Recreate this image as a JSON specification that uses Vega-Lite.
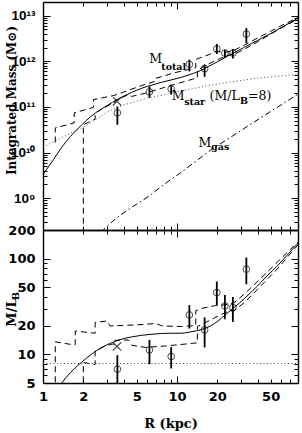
{
  "$schema": "https://vega.github.io/schema/vega-lite/v6.json",
  "background": "white",
  "padding": {"left": 4, "top": 1, "right": 1, "bottom": 2},
  "spacing": 0,
  "bounds": "flush",
  "config": {
    "view": {"stroke": null},
    "axis": {"domainColor": "black", "domainWidth": 1.4, "tickColor": "black", "tickWidth": 1, "grid": false, "labelColor": "black", "titleColor": "black", "labelOverlap": false, "labelFlush": false}
  },
  "vconcat": [
    {
      "width": 255,
      "height": 228,
      "layer": [
        {
          "data": {"values": [
            {"R": 1, "M": 3.31e9}, {"R": 1.2, "M": 7.08e9}, {"R": 1.385, "M": 1.32e10}, {"R": 1.6, "M": 2.24e10},
            {"R": 1.95, "M": 4.07e10}, {"R": 2.3, "M": 6.31e10}, {"R": 2.75, "M": 9.12e10}, {"R": 3.3, "M": 1.26e11},
            {"R": 3.9, "M": 1.66e11}, {"R": 4.6, "M": 2.09e11}, {"R": 5.46, "M": 2.57e11}, {"R": 6.5, "M": 3.02e11},
            {"R": 7.67, "M": 3.47e11}, {"R": 9, "M": 3.89e11}, {"R": 10.8, "M": 4.47e11}, {"R": 12.5, "M": 5.13e11},
            {"R": 14, "M": 5.75e11}, {"R": 16, "M": 6.92e11}, {"R": 18, "M": 8.32e11}, {"R": 20, "M": 9.77e11},
            {"R": 23, "M": 1.23e12}, {"R": 26.7, "M": 1.55e12}, {"R": 32, "M": 2.04e12}, {"R": 40, "M": 2.88e12},
            {"R": 50, "M": 4.07e12}, {"R": 60, "M": 5.5e12}, {"R": 70, "M": 7.08e12}, {"R": 80, "M": 8.91e12}
          ]},
          "mark": {"type": "line", "color": "black", "strokeWidth": 1, "interpolate": "monotone", "clip": true},
          "encoding": {
            "x": {"field": "R", "type": "quantitative", "scale": {"type": "log", "domain": [1, 80], "nice": false},
                  "axis": {"orient": "bottom", "values": [1, 10], "tickSize": -7, "labels": false, "domain": true, "title": null}},
            "y": {"field": "M", "type": "quantitative", "scale": {"type": "log", "domain": [2e8, 2e13], "nice": false},
                  "axis": {"orient": "left", "values": [1e9, 1e10, 1e11, 1e12, 1e13], "tickSize": -7, "labelPadding": 15,
                           "labelFont": "Liberation Sans", "labelFontSize": 13.5, "labelFontWeight": "bold",
                           "labelExpr": "datum.value == 1e9 ? '10⁹' : datum.value == 1e10 ? '10¹⁰' : datum.value == 1e11 ? '10¹¹' : datum.value == 1e12 ? '10¹²' : '10¹³'",
                           "domain": true, "title": "Integrated Mass (M⊙)", "titleFont": "DejaVu Serif", "titleFontSize": 12,
                           "titleFontWeight": "bold", "titleX": -28, "titleY": 98, "titleBaseline": "alphabetic", "titleAngle": 270, "titleAlign": "center"}}
          }
        },
        {
          "data": {"values": [
            {"R": 1, "M": 1.32e10}, {"R": 1.25, "M": 1.82e10}, {"R": 1.5, "M": 2.4e10}, {"R": 2, "M": 3.63e10},
            {"R": 2.5, "M": 5.37e10}, {"R": 3, "M": 7.59e10}, {"R": 4, "M": 1.1e11}, {"R": 5, "M": 1.32e11},
            {"R": 6, "M": 1.55e11}, {"R": 7, "M": 1.7e11}, {"R": 9, "M": 2.0e11}, {"R": 10, "M": 2.14e11},
            {"R": 13, "M": 2.51e11}, {"R": 16, "M": 2.82e11}, {"R": 20, "M": 3.16e11}, {"R": 30, "M": 3.8e11},
            {"R": 40, "M": 4.27e11}, {"R": 50, "M": 4.57e11}, {"R": 60, "M": 4.79e11}, {"R": 80, "M": 5.13e11}
          ]},
          "mark": {"type": "line", "color": "#444444", "strokeWidth": 1, "strokeDash": [1, 2.5], "interpolate": "monotone", "clip": true},
          "encoding": {
            "x": {"field": "R", "type": "quantitative", "scale": {"type": "log", "domain": [1, 80], "nice": false},
                  "axis": {"orient": "bottom", "values": [2, 3, 4, 5, 6, 7, 8, 9, 20, 30, 40, 50, 60, 70], "tickSize": -4, "labels": false, "domain": false, "title": null}},
            "y": {"field": "M", "type": "quantitative", "scale": {"type": "log", "domain": [2e8, 2e13], "nice": false},
                  "axis": {"orient": "left", "values": [3e8, 4e8, 5e8, 6e8, 7e8, 8e8, 9e8, 2e9, 3e9, 4e9, 5e9, 6e9, 7e9, 8e9, 9e9, 2e10, 3e10, 4e10, 5e10, 6e10, 7e10, 8e10, 9e10, 2e11, 3e11, 4e11, 5e11, 6e11, 7e11, 8e11, 9e11, 2e12, 3e12, 4e12, 5e12, 6e12, 7e12, 8e12, 9e12],
                           "tickSize": -4, "labels": false, "domain": false, "title": null}}
          }
        },
        {
          "data": {"values": [
            {"R": 2.7, "M": 1.78e8}, {"R": 3.5, "M": 3.55e8}, {"R": 4.5, "M": 6.03e8}, {"R": 6.2, "M": 1.12e9},
            {"R": 8, "M": 2.0e9}, {"R": 10, "M": 3.16e9}, {"R": 14, "M": 6.61e9}, {"R": 18, "M": 1.15e10},
            {"R": 25, "M": 2.14e10}, {"R": 35, "M": 4.07e10}, {"R": 50, "M": 7.94e10}, {"R": 65, "M": 1.29e11}, {"R": 80, "M": 1.91e11}
          ]},
          "mark": {"type": "line", "color": "black", "strokeWidth": 1, "strokeDash": [6, 3, 1.5, 3], "interpolate": "monotone", "clip": true},
          "encoding": {
            "x": {"field": "R", "type": "quantitative", "scale": {"type": "log", "domain": [1, 80], "nice": false},
                  "axis": {"orient": "top", "values": [1, 10], "tickSize": -7, "labels": false, "domain": true, "title": null}},
            "y": {"field": "M", "type": "quantitative", "scale": {"type": "log", "domain": [2e8, 2e13], "nice": false},
                  "axis": {"orient": "right", "values": [1e9, 1e10, 1e11, 1e12, 1e13], "tickSize": -7, "labels": false, "domain": true, "title": null}}
          }
        },
        {
          "data": {"values": [
            {"R": 1.235, "M": 1.66e10}, {"R": 1.235, "M": 3.47e10}, {"R": 1.71, "M": 4.47e10}, {"R": 1.71, "M": 7.41e10},
            {"R": 2.38, "M": 9.77e10}, {"R": 2.38, "M": 1.45e11}, {"R": 3.38, "M": 1.78e11}, {"R": 4.3, "M": 2.29e11},
            {"R": 5.46, "M": 2.95e11}, {"R": 6.82, "M": 3.63e11}, {"R": 6.82, "M": 4.17e11}, {"R": 9.6, "M": 5.62e11},
            {"R": 13.8, "M": 7.24e11}, {"R": 13.8, "M": 1.1e12}, {"R": 17.4, "M": 1.41e12}, {"R": 19.5, "M": 1.66e12},
            {"R": 23, "M": 1.58e12}, {"R": 26.6, "M": 1.74e12}, {"R": 32, "M": 2.29e12}, {"R": 40, "M": 3.24e12},
            {"R": 50, "M": 4.57e12}, {"R": 60, "M": 6.03e12}, {"R": 80, "M": 9.12e12}
          ]},
          "mark": {"type": "line", "color": "black", "strokeWidth": 1, "strokeDash": [6, 4], "clip": true},
          "encoding": {
            "x": {"field": "R", "type": "quantitative", "scale": {"type": "log", "domain": [1, 80], "nice": false},
                  "axis": {"orient": "top", "values": [2, 3, 4, 5, 6, 7, 8, 9, 20, 30, 40, 50, 60, 70], "tickSize": -4, "labels": false, "domain": false, "title": null}},
            "y": {"field": "M", "type": "quantitative", "scale": {"type": "log", "domain": [2e8, 2e13], "nice": false},
                  "axis": {"orient": "right", "values": [3e8, 4e8, 5e8, 6e8, 7e8, 8e8, 9e8, 2e9, 3e9, 4e9, 5e9, 6e9, 7e9, 8e9, 9e9, 2e10, 3e10, 4e10, 5e10, 6e10, 7e10, 8e10, 9e10, 2e11, 3e11, 4e11, 5e11, 6e11, 7e11, 8e11, 9e11, 2e12, 3e12, 4e12, 5e12, 6e12, 7e12, 8e12, 9e12],
                           "tickSize": -4, "labels": false, "domain": false, "title": null}}
          }
        },
        {
          "data": {"values": [
            {"R": 2, "M": 1e8}, {"R": 2, "M": 4.07e10}, {"R": 2.45, "M": 5.37e10}, {"R": 2.45, "M": 7.41e10},
            {"R": 2.9, "M": 9.77e10}, {"R": 3.3, "M": 1.2e11}, {"R": 3.45, "M": 1.26e11}, {"R": 3.45, "M": 1.38e11},
            {"R": 4.35, "M": 1.86e11}, {"R": 4.6, "M": 1.7e11}, {"R": 5.8, "M": 2.0e11}, {"R": 8.1, "M": 2.69e11},
            {"R": 13.1, "M": 4.07e11}, {"R": 14.2, "M": 4.37e11}, {"R": 14.2, "M": 6.46e11}, {"R": 19, "M": 1.02e12},
            {"R": 21.2, "M": 1.17e12}, {"R": 24.5, "M": 1.38e12}, {"R": 26.6, "M": 1.41e12}, {"R": 32, "M": 1.86e12},
            {"R": 40, "M": 2.69e12}, {"R": 56, "M": 4.79e12}, {"R": 80, "M": 8.51e12}
          ]},
          "mark": {"type": "line", "color": "black", "strokeWidth": 1, "strokeDash": [6, 4], "clip": true},
          "encoding": {
            "x": {"field": "R", "type": "quantitative", "scale": {"type": "log", "domain": [1, 80], "nice": false}, "axis": null},
            "y": {"field": "M", "type": "quantitative", "scale": {"type": "log", "domain": [2e8, 2e13], "nice": false}, "axis": null}
          }
        },
        {
          "data": {"values": [
            {"R": 3.59, "M": 7.41e10, "lo": 4.07e10, "hi": 1.02e11},
            {"R": 6.23, "M": 2.14e11, "lo": 1.58e11, "hi": 2.83e11},
            {"R": 9.05, "M": 2.48e11, "lo": 1.86e11, "hi": 3.09e11},
            {"R": 12.37, "M": 8.59e11, "lo": 6.03e11, "hi": 1.09e12},
            {"R": 16.08, "M": 6.92e11, "lo": 4.57e11, "hi": 8.51e11},
            {"R": 19.82, "M": 1.87e12, "lo": 1.45e12, "hi": 2.4e12},
            {"R": 22.78, "M": 1.52e12, "lo": 1.19e12, "hi": 1.8e12},
            {"R": 26.12, "M": 1.52e12, "lo": 1.15e12, "hi": 1.86e12},
            {"R": 32.93, "M": 3.97e12, "lo": 2.51e12, "hi": 5.37e12}
          ]},
          "layer": [
            {
              "mark": {"type": "rule", "color": "black", "strokeWidth": 1.8, "clip": true},
              "encoding": {
                "x": {"field": "R", "type": "quantitative", "scale": {"type": "log", "domain": [1, 80], "nice": false}, "axis": null},
                "y": {"field": "lo", "type": "quantitative", "scale": {"type": "log", "domain": [2e8, 2e13], "nice": false}, "axis": null},
                "y2": {"field": "hi"}
              }
            },
            {
              "mark": {"type": "point", "shape": "circle", "filled": false, "color": "black", "size": 45, "strokeWidth": 1, "clip": true},
              "encoding": {
                "x": {"field": "R", "type": "quantitative", "scale": {"type": "log", "domain": [1, 80], "nice": false}, "axis": null},
                "y": {"field": "M", "type": "quantitative", "scale": {"type": "log", "domain": [2e8, 2e13], "nice": false}, "axis": null}
              }
            }
          ]
        },
        {
          "data": {"values": [{"R": 3.57, "M": 1.33e11}]},
          "mark": {"type": "point", "shape": "M-1,-1L1,1M-1,1L1,-1", "filled": false, "color": "black", "size": 70, "strokeWidth": 1.2},
          "encoding": {
            "x": {"field": "R", "type": "quantitative", "scale": {"type": "log", "domain": [1, 80], "nice": false}, "axis": null},
            "y": {"field": "M", "type": "quantitative", "scale": {"type": "log", "domain": [2e8, 2e13], "nice": false}, "axis": null}
          }
        },
        {
          "data": {"values": [
            {"R": 6.21, "M": 9.36e11, "t": "M"},
            {"R": 9.13, "M": 1.45e11, "t": "M"},
            {"R": 17.5, "M": 1.45e11, "t": "(M/L"},
            {"R": 33.9, "M": 1.45e11, "t": "=8)"},
            {"R": 14.5, "M": 1.29e10, "t": "M"}
          ]},
          "mark": {"type": "text", "align": "left", "baseline": "alphabetic", "font": "DejaVu Serif", "fontSize": 12.5, "color": "black"},
          "encoding": {
            "x": {"field": "R", "type": "quantitative", "scale": {"type": "log", "domain": [1, 80], "nice": false}, "axis": null},
            "y": {"field": "M", "type": "quantitative", "scale": {"type": "log", "domain": [2e8, 2e13], "nice": false}, "axis": null},
            "text": {"field": "t"}
          }
        },
        {
          "data": {"values": [
            {"R": 7.63, "M": 6.58e11, "t": "total"},
            {"R": 11.31, "M": 1.1e11, "t": "star"},
            {"R": 29.55, "M": 1.18e11, "t": "B"},
            {"R": 17.97, "M": 1.14e10, "t": "gas"}
          ]},
          "mark": {"type": "text", "align": "left", "baseline": "alphabetic", "font": "DejaVu Serif", "fontSize": 9.5, "fontWeight": "bold", "color": "black"},
          "encoding": {
            "x": {"field": "R", "type": "quantitative", "scale": {"type": "log", "domain": [1, 80], "nice": false}, "axis": null},
            "y": {"field": "M", "type": "quantitative", "scale": {"type": "log", "domain": [2e8, 2e13], "nice": false}, "axis": null},
            "text": {"field": "t"}
          }
        }
      ],
      "resolve": {"axis": {"x": "independent", "y": "independent"}}
    },
    {
      "width": 255,
      "height": 153,
      "layer": [
        {
          "data": {"values": [
            {"R": 1.3, "ML": 4.3}, {"R": 1.385, "ML": 5.0}, {"R": 1.6, "ML": 6.4}, {"R": 1.95, "ML": 8.3},
            {"R": 2.3, "ML": 10.0}, {"R": 2.75, "ML": 11.8}, {"R": 3.3, "ML": 13.3}, {"R": 3.87, "ML": 14.4},
            {"R": 4.6, "ML": 15.2}, {"R": 5.46, "ML": 15.8}, {"R": 6.5, "ML": 16.2}, {"R": 7.67, "ML": 16.5},
            {"R": 9, "ML": 16.6}, {"R": 10.8, "ML": 16.6}, {"R": 12.5, "ML": 17.1}, {"R": 14, "ML": 17.6},
            {"R": 16.1, "ML": 18.6}, {"R": 18, "ML": 20}, {"R": 20, "ML": 22}, {"R": 23, "ML": 26},
            {"R": 26.7, "ML": 30.8}, {"R": 32, "ML": 38.5}, {"R": 39.9, "ML": 51.9}, {"R": 47, "ML": 66},
            {"R": 56, "ML": 84}, {"R": 66, "ML": 108}, {"R": 80, "ML": 146}
          ]},
          "mark": {"type": "line", "color": "black", "strokeWidth": 1, "interpolate": "monotone", "clip": true},
          "encoding": {
            "x": {"field": "R", "type": "quantitative", "scale": {"type": "log", "domain": [1, 80], "nice": false},
                  "axis": {"orient": "bottom", "values": [1, 2, 5, 10, 20, 50], "ticks": false, "labelPadding": 7, "format": "d",
                           "labelFont": "DejaVu Sans", "labelFontSize": 13, "labelFontWeight": "bold", "domain": true,
                           "title": "R (kpc)", "titleFont": "DejaVu Serif", "titleFontSize": 13, "titleFontWeight": "bold",
                           "titleY": 44, "titleBaseline": "alphabetic"}},
            "y": {"field": "ML", "type": "quantitative", "scale": {"type": "log", "domain": [5, 200], "nice": false},
                  "axis": {"orient": "left", "values": [5, 10, 20, 50, 100, 200], "tickSize": -7, "labelPadding": 15, "format": "d",
                           "labelFont": "DejaVu Sans", "labelFontSize": 13, "labelFontWeight": "bold", "domain": true,
                           "title": "M/L", "titleFont": "DejaVu Serif", "titleFontSize": 13, "titleFontWeight": "bold",
                           "titleX": -28, "titleY": 82, "titleBaseline": "alphabetic", "titleAngle": 270, "titleAlign": "center"}}
          }
        },
        {
          "data": {"values": [
            {"R": 1.235, "ML": 4}, {"R": 1.235, "ML": 13.5}, {"R": 1.6, "ML": 12.7}, {"R": 1.74, "ML": 12.6},
            {"R": 1.74, "ML": 17.5}, {"R": 2.45, "ML": 16.6}, {"R": 2.45, "ML": 21.5}, {"R": 3.0, "ML": 22.3},
            {"R": 3.17, "ML": 19.8}, {"R": 5.0, "ML": 20.3}, {"R": 7.0, "ML": 21.0}, {"R": 7.7, "ML": 19.8},
            {"R": 10.8, "ML": 19.5}, {"R": 13.8, "ML": 20}, {"R": 13.8, "ML": 28.5}, {"R": 15, "ML": 30},
            {"R": 19, "ML": 32.2}, {"R": 23, "ML": 33}, {"R": 26.6, "ML": 34.5}, {"R": 32, "ML": 43},
            {"R": 40, "ML": 58}, {"R": 56, "ML": 92}, {"R": 80, "ML": 150}
          ]},
          "mark": {"type": "line", "color": "black", "strokeWidth": 1, "strokeDash": [6, 4], "clip": true},
          "encoding": {
            "x": {"field": "R", "type": "quantitative", "scale": {"type": "log", "domain": [1, 80], "nice": false},
                  "axis": {"orient": "bottom", "values": [1, 10], "tickSize": -7, "labels": false, "domain": false, "title": null}},
            "y": {"field": "ML", "type": "quantitative", "scale": {"type": "log", "domain": [5, 200], "nice": false},
                  "axis": {"orient": "left", "values": [6, 7, 8, 9, 30, 40, 60, 70, 80, 90], "tickSize": -4, "labels": false, "domain": false, "title": null}}
          }
        },
        {
          "data": {"values": [
            {"R": 2, "ML": 4}, {"R": 2, "ML": 8.2}, {"R": 2.45, "ML": 7.8}, {"R": 2.45, "ML": 10.8},
            {"R": 2.9, "ML": 12.2}, {"R": 3.3, "ML": 12.8}, {"R": 3.45, "ML": 12.6}, {"R": 3.45, "ML": 14.0},
            {"R": 4.35, "ML": 14.1}, {"R": 4.6, "ML": 12.4}, {"R": 5.8, "ML": 11.8}, {"R": 8.1, "ML": 12.2},
            {"R": 13.1, "ML": 13.0}, {"R": 14.2, "ML": 13.2}, {"R": 14.2, "ML": 19.5}, {"R": 19, "ML": 24},
            {"R": 21.2, "ML": 26}, {"R": 24.5, "ML": 28.4}, {"R": 26.6, "ML": 28.5}, {"R": 32, "ML": 35},
            {"R": 40, "ML": 48}, {"R": 56, "ML": 78}, {"R": 80, "ML": 140}
          ]},
          "mark": {"type": "line", "color": "black", "strokeWidth": 1, "strokeDash": [6, 4], "clip": true},
          "encoding": {
            "x": {"field": "R", "type": "quantitative", "scale": {"type": "log", "domain": [1, 80], "nice": false},
                  "axis": {"orient": "bottom", "values": [2, 3, 4, 5, 6, 7, 8, 9, 20, 30, 40, 50, 60, 70], "tickSize": -4, "labels": false, "domain": false, "title": null}},
            "y": {"field": "ML", "type": "quantitative", "scale": {"type": "log", "domain": [5, 200], "nice": false},
                  "axis": {"orient": "right", "values": [5, 10, 20, 50, 100, 200], "tickSize": -7, "labels": false, "domain": true, "title": null}}
          }
        },
        {
          "data": {"values": [{"R": 1, "ML": 8}, {"R": 80, "ML": 8}]},
          "mark": {"type": "line", "color": "#444444", "strokeWidth": 1, "strokeDash": [1, 2.5], "clip": true},
          "encoding": {
            "x": {"field": "R", "type": "quantitative", "scale": {"type": "log", "domain": [1, 80], "nice": false},
                  "axis": {"orient": "top", "values": [1, 10], "tickSize": -7, "labels": false, "domain": true, "title": null}},
            "y": {"field": "ML", "type": "quantitative", "scale": {"type": "log", "domain": [5, 200], "nice": false},
                  "axis": {"orient": "right", "values": [6, 7, 8, 9, 30, 40, 60, 70, 80, 90], "tickSize": -4, "labels": false, "domain": false, "title": null}}
          }
        },
        {
          "data": {"values": [
            {"R": 3.59, "ML": 6.98, "lo": 4.5, "hi": 9.78},
            {"R": 6.23, "ML": 11.11, "lo": 7.87, "hi": 14.14},
            {"R": 9.05, "ML": 9.48, "lo": 7.1, "hi": 11.86},
            {"R": 12.37, "ML": 25.8, "lo": 18.6, "hi": 32.7},
            {"R": 16.08, "ML": 18.0, "lo": 11.8, "hi": 24.3},
            {"R": 19.82, "ML": 44.3, "lo": 32.6, "hi": 57.7},
            {"R": 22.78, "ML": 32.1, "lo": 23.3, "hi": 41.8},
            {"R": 26.12, "ML": 30.8, "lo": 21.8, "hi": 39.8},
            {"R": 32.93, "ML": 77.6, "lo": 54.1, "hi": 102.9}
          ]},
          "layer": [
            {
              "mark": {"type": "rule", "color": "black", "strokeWidth": 1.8, "clip": true},
              "encoding": {
                "x": {"field": "R", "type": "quantitative", "scale": {"type": "log", "domain": [1, 80], "nice": false}, "axis": null},
                "y": {"field": "lo", "type": "quantitative", "scale": {"type": "log", "domain": [5, 200], "nice": false}, "axis": null},
                "y2": {"field": "hi"}
              }
            },
            {
              "mark": {"type": "point", "shape": "circle", "filled": false, "color": "black", "size": 45, "strokeWidth": 1, "clip": true},
              "encoding": {
                "x": {"field": "R", "type": "quantitative", "scale": {"type": "log", "domain": [1, 80], "nice": false}, "axis": null},
                "y": {"field": "ML", "type": "quantitative", "scale": {"type": "log", "domain": [5, 200], "nice": false}, "axis": null}
              }
            }
          ]
        },
        {
          "data": {"values": [{"R": 3.57, "ML": 12.06}]},
          "mark": {"type": "point", "shape": "M-1,-1L1,1M-1,1L1,-1", "filled": false, "color": "black", "size": 70, "strokeWidth": 1.2},
          "encoding": {
            "x": {"field": "R", "type": "quantitative", "scale": {"type": "log", "domain": [1, 80], "nice": false},
                  "axis": {"orient": "top", "values": [2, 3, 4, 5, 6, 7, 8, 9, 20, 30, 40, 50, 60, 70], "tickSize": -4, "labels": false, "domain": false, "title": null}},
            "y": {"field": "ML", "type": "quantitative", "scale": {"type": "log", "domain": [5, 200], "nice": false},
                  "axis": {"orient": "left", "values": [5], "ticks": false, "labels": false, "domain": false, "title": "B",
                           "titleFont": "DejaVu Serif", "titleFontSize": 9.5, "titleFontWeight": "bold",
                           "titleX": -25, "titleY": 65.5, "titleBaseline": "alphabetic", "titleAngle": 270, "titleAlign": "center"}}
          }
        }
      ],
      "resolve": {"axis": {"x": "independent", "y": "independent"}}
    }
  ]
}
